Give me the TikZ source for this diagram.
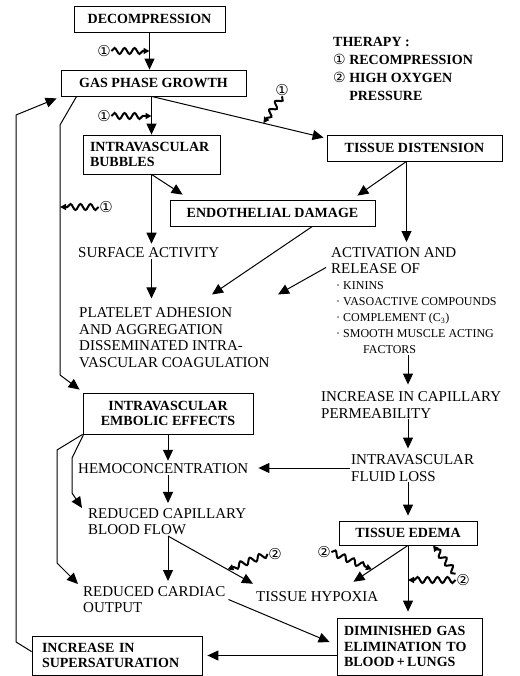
\documentclass[tikz,border=0pt]{standalone}
\usepackage{fontspec}
\setmainfont{Liberation Serif}
\newfontfamily\sym{DejaVu Sans}
\usetikzlibrary{arrows.meta,decorations.pathmorphing,calc}
\newcommand\circnum[1]{{\sym\mdseries\fontsize{14}{14}\selectfont #1}}

\tikzset{
  box/.style={draw, line width=0.8pt, inner sep=0pt,
    font=\bfseries\fontsize{14}{15.5}\selectfont},
  txt/.style={anchor=west, align=left, inner sep=1pt,
    font=\fontsize{15}{16.5}\selectfont},
  arr/.style={line width=1pt, -{Triangle[length=11pt,width=10pt]}},
  wavy/.style={line width=2pt, decorate,
    decoration={snake, amplitude=3pt, segment length=10pt, post length=4pt},
    -{Triangle[length=6pt,width=6pt]}},
  num/.style={inner sep=0.5pt, font=\sym\fontsize{15}{15}\selectfont},
}

\begin{document}
\begin{tikzpicture}[x=1pt,y=-1pt]
  \useasboundingbox (0,0) rectangle (519,676);

  % boxes
  \node[box, minimum width=151pt, minimum height=26pt] (dec) at (149.5,19) {DECOMPRESSION};
  \node[box, minimum width=185pt, minimum height=26pt] (gas) at (153.5,83) {GAS PHASE GROWTH};
  \node[box, minimum width=137pt, minimum height=39pt, text width=123pt, align=left] (bub) at (151.5,154.5) {INTRAVASCULAR\\BUBBLES};
  \node[box, minimum width=175pt, minimum height=26pt] (dist) at (414.5,148) {TISSUE DISTENSION};
  \node[box, minimum width=205pt, minimum height=26pt] (endo) at (272.5,213) {ENDOTHELIAL DAMAGE};
  \node[box, minimum width=170pt, minimum height=41pt, align=center] (emb) at (168,413.5) {INTRAVASCULAR\\EMBOLIC EFFECTS};
  \node[box, minimum width=138pt, minimum height=24pt] (edema) at (408,533) {TISSUE EDEMA};
  \node[box, minimum width=145pt, minimum height=57pt, text width=131pt, align=left] (dimin) at (409.5,646.5) {DIMINISHED GAS\\ELIMINATION TO\\BLOOD\,+\,LUNGS};
  \node[box, minimum width=170pt, minimum height=39pt, text width=150pt, align=left] (sup) at (117,655.5) {INCREASE IN\\SUPERSATURATION};

  % plain texts
  \node[txt] (surf) at (77,253) {SURFACE ACTIVITY};
  \node[txt] (plat) at (78,337.5) {PLATELET ADHESION\\AND AGGREGATION\\DISSEMINATED INTRA-\\VASCULAR COAGULATION};
  \node[txt] (act) at (330,260.5) {ACTIVATION AND\\RELEASE OF};
  \node[txt, font=\fontsize{12}{16}\selectfont] (bul) at (335,318) {· KININS\\· VASOACTIVE COMPOUNDS\\· COMPLEMENT (C\textsubscript{3})\\· SMOOTH MUSCLE ACTING\\\hspace*{27pt}FACTORS};
  \node[txt] (cap) at (320,405) {INCREASE IN CAPILLARY\\PERMEABILITY};
  \node[txt] (fluid) at (350,468) {INTRAVASCULAR\\FLUID LOSS};
  \node[txt] (hemo) at (77,469) {HEMOCONCENTRATION};
  \node[txt] (rcap) at (87,521.5) {REDUCED CAPILLARY\\BLOOD FLOW};
  \node[txt] (rcard) at (82,599.5) {REDUCED CARDIAC\\OUTPUT};
  \node[txt] (hyp) at (255,597) {TISSUE HYPOXIA};

  % therapy legend
  \node[txt, font=\bfseries\fontsize{14}{17.8}\selectfont] (therapy) at (332,68.75)
    {THERAPY :\\\circnum{①} RECOMPRESSION\\\circnum{②} HIGH OXYGEN\\\phantom{\circnum{②}} PRESSURE};

  % upper part
  \draw[arr] (dec.south) -- (dec.south |- gas.north);
  \draw[arr] (bub.north |- gas.south) -- (bub.north);
  \draw[arr] (bub.north |- gas.south) -- ([shift={(-3pt,-3pt)}]dist.north west);
  \coordinate (ds) at ([xshift=-8pt]dist.south);
  \draw[arr] (bub.south) -- ([shift={(13pt,5pt)}]endo.north west);
  \draw[arr] (bub.south) -- ([yshift=3pt]bub.south |- surf.north);
  \draw[arr] (ds) -- ([shift={(-18pt,4pt)}]endo.north east);
  \draw[arr] (ds) -- ([yshift=4pt]ds |- act.north);
  \draw[arr] (surf.south -| bub.south) -- ([yshift=8pt]bub.south |- plat.north);
  \draw[arr] ([xshift=-63pt]endo.south east) -- ([shift={(134pt,12pt)}]plat.north west);
  \draw[arr] ([shift={(-4pt,-7pt)}]act.west) -- ([shift={(200pt,12pt)}]plat.north west);

  % right column
  \draw[arr] (bul.south -| edema.north) -- ([yshift=6pt]cap.north -| edema.north);
  \draw[arr] (cap.south -| edema.north) -- ([yshift=5pt]fluid.north -| edema.north);
  \draw[arr] (fluid.west) -- ([xshift=9pt]fluid.west -| hemo.east);
  \draw[arr] (fluid.south -| edema.north) -- ([yshift=5pt]edema.north);

  % left side
  \coordinate (gl1) at (60,125);
  \coordinate (gl2) at (60,375);
  \draw[arr] ([xshift=16pt]gas.south west) -- (gl1) -- (gl2) -- ([shift={(-3pt,3pt)}]emb.north west);
  \coordinate (fb1) at (16,642);
  \coordinate (fb2) at (16,115);
  \draw[arr] ([yshift=-16pt]sup.north west) -- (fb1) -- (fb2) -- ([shift={(-4pt,-2pt)}]gas.south west);
  \coordinate (el1) at (57,450);
  \coordinate (el2) at (57,563);
  \draw[arr] (emb.south west) -- (el1) -- (el2) -- ([shift={(-4pt,1pt)}]rcard.north west);
  \coordinate (ec1) at (72,458);
  \coordinate (ec2) at (72,493);
  \draw[arr] ([xshift=1pt]emb.south west) -- (ec1) -- (ec2) -- ([shift={(-5pt,-1pt)}]rcap.north west);

  % lower part
  \draw[arr] (emb.south) -- ([yshift=2pt]emb.south |- hemo.north);
  \draw[arr] (hemo.south -| emb.south) -- ([yshift=4pt]emb.south |- rcap.north);
  \draw[arr] (rcap.south -| emb.south) -- ([yshift=4pt]emb.south |- rcard.north);
  \coordinate (rh) at ([shift={(-2pt,7pt)}]hyp.north west);
  \draw[arr] (rcap.south -| emb.south) -- (rh);
  \draw[arr] ([xshift=2pt]rcard.east) -- ([shift={(-7pt,4.5pt)}]dimin.west);
  \coordinate (eh) at ([shift={(-26pt,9pt)}]hyp.north east);
  \draw[arr] (edema.south) -- (eh);
  \draw[arr] (edema.south) -- ([yshift=6pt]edema.south |- dimin.north);
  \draw[arr] (dimin.west |- sup.east) -- ([xshift=5pt]sup.east);

  % therapy waves
  \node[num] (w1) at (104,51) {①};
  \draw[wavy] (w1.east) -- (dec.south |- w1.east);
  \node[num] (w2) at (104,116) {①};
  \draw[wavy] (w2.east) -- (bub.north |- w2.east);
  \node[num] (w3) at (282,90) {①};
  \draw[wavy] (w3.south) -- ($(bub.north |- gas.south)!0.65!([shift={(-3pt,-3pt)}]dist.north west)$);
  \node[num] (w4) at (106,207) {①};
  \draw[wavy] (w4.west) -- (gl1 |- w4.west);
  \node[num] (w5) at (275,554) {②};
  \draw[wavy] (w5.west) -- ($(rcap.south -| emb.south)!0.7!(rh)$);
  \node[num] (w6) at (324,552) {②};
  \draw[wavy] (w6.east) -- ($(edema.south)!0.66!(eh)$);
  \node[num] (w7) at (463,580) {②};
  \draw[wavy] (w7.west) -- (edema.south |- w7.west);
  \draw[wavy] (w7.north west) -- ([xshift=25pt]edema.south);
\end{tikzpicture}
\end{document}
